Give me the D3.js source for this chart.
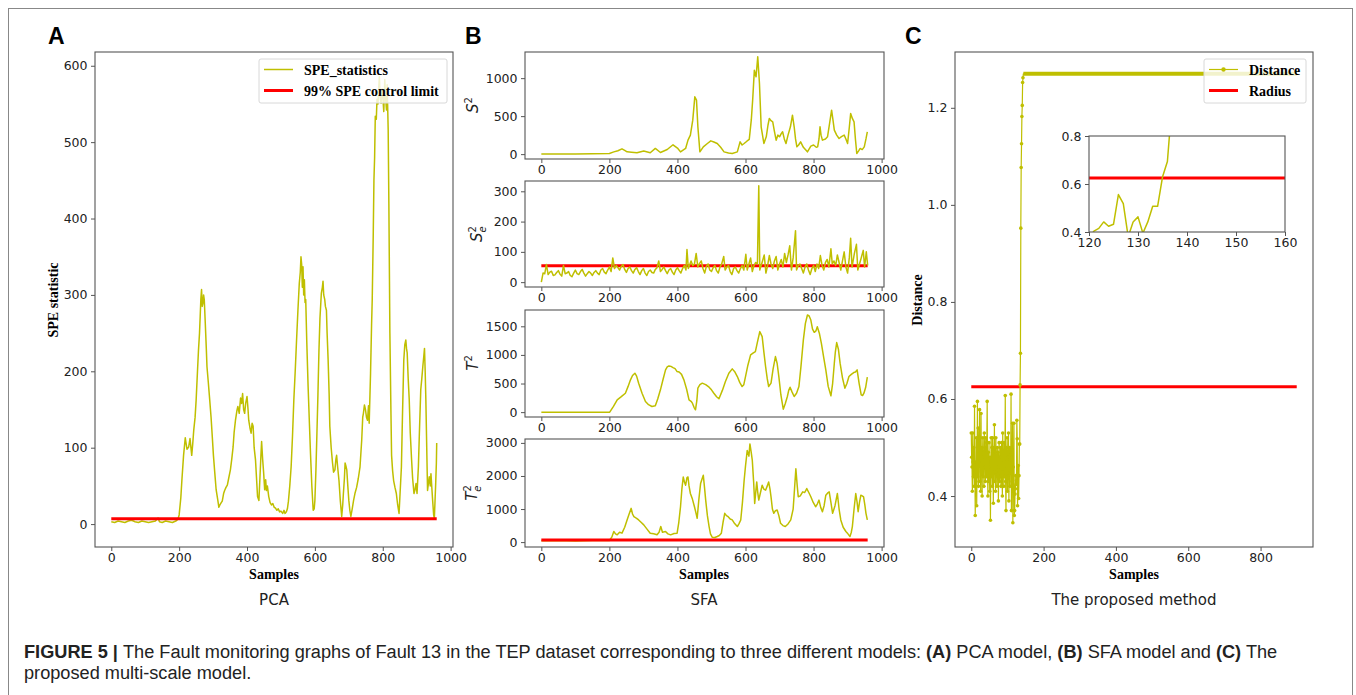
<!DOCTYPE html>
<html>
<head>
<meta charset="utf-8">
<script src="https://cdn.jsdelivr.net/npm/d3@7"></script>
<style>
  body { margin: 0; background: #fff; }
  svg text { font-family: "DejaVu Sans", sans-serif; }
</style>
</head>
<body>
<svg id="fig" width="1356" height="695"></svg>
<script>
// ---- data: [sample, value] ----
const speStat = [[0,3],[10,2],[20,4],[30,3],[40,2],[50,4],[60,5],[70,3],[80,2],[90,4],[100,3],[110,2],[120,3],[130,4],[138,8],[142,3],[150,2],[160,4],[170,3],[180,2],[190,4],[196,6],
  [200,12],[205,35],[208,57],[213,90],[218,113],[223,98],[228,101],[232,112],[237,90],[240,105],[243,123],[247,140],[250,162],[254,200],[257,228],[260,250],[262,272],[264,295],[266,307],[268,285],[270,289],[272,300],[274,294],[277,263],[280,230],[282,206],[286,185],[290,163],[294,140],[297,119],[301,90],[305,67],[309,45],[314,31],[317,22],[320,25],[324,28],[327,30],[331,40],[334,44],[338,48],[342,51],[346,60],[351,71],[355,85],[359,101],[362,120],[366,136],[370,148],[373,154],[377,145],[381,165],[384,158],[387,171],[390,150],[393,145],[396,158],[400,167],[403,150],[405,136],[409,125],[412,119],[415,132],[418,128],[421,100],[425,84],[428,60],[431,36],[435,31],[438,60],[441,90],[443,108],[446,85],[449,67],[452,45],[455,58],[457,44],[460,50],[464,36],[468,28],[472,25],[476,27],[480,22],[484,21],[488,18],[492,20],[496,16],[500,17],[505,14],[509,18],[512,14],[516,16],[519,20],[522,30],[526,50],[530,75],[534,115],[538,163],[542,200],[546,241],[550,280],[554,315],[557,330],[559,350],[561,340],[563,310],[565,337],[567,300],[569,320],[571,290],[573,294],[576,240],[580,180],[584,130],[587,93],[591,50],[595,18],[598,20],[600,31],[603,70],[606,119],[609,170],[612,228],[615,270],[619,302],[622,310],[624,318],[626,300],[629,294],[631,285],[634,280],[636,250],[639,215],[642,170],[644,128],[648,100],[652,80],[655,68],[659,71],[662,85],[664,90],[667,75],[671,57],[675,30],[679,10],[682,25],[684,40],[687,60],[689,80],[692,75],[694,71],[697,50],[700,31],[703,18],[706,10],[710,20],[714,31],[718,40],[723,48],[728,60],[733,75],[738,110],[741,140],[743,145],[746,156],[749,150],[752,140],[755,136],[758,155],[760,132],[764,197],[767,260],[769,294],[772,380],[774,450],[776,480],[778,534],[781,530],[783,556],[786,550],[788,570],[790,586],[792,560],[795,551],[798,570],[800,560],[803,540],[806,582],[808,560],[811,542],[813,575],[816,516],[818,420],[821,250],[824,150],[826,90],[829,70],[832,57],[836,48],[840,40],[844,25],[848,14],[851,40],[855,75],[858,140],[862,215],[865,235],[868,241],[870,230],[872,224],[875,190],[878,163],[881,120],[885,84],[888,60],[892,40],[895,45],[898,53],[901,40],[905,75],[908,120],[912,176],[915,190],[918,206],[921,220],[923,230],[925,200],[927,163],[930,90],[932,44],[935,55],[937,62],[940,50],[942,66],[945,45],[947,31],[950,12],[952,7],[954,30],[956,53],[958,80],[959,106]];
const speLimit = 7;

const s2 = [[0,2],[50,3],[100,2],[150,4],[200,9],[213,30],[225,45],[237,70],[245,50],[252,30],[265,25],[281,18],[301,40],[320,18],[335,75],[350,22],[370,61],[387,123],[400,80],[409,30],[424,75],[431,184],[438,250],[445,447],[451,754],[456,710],[460,360],[466,30],[476,96],[488,140],[498,175],[507,160],[517,140],[527,90],[537,30],[550,15],[561,9],[576,30],[584,162],[590,120],[596,140],[604,170],[611,193],[617,450],[621,710],[626,1105],[631,1018],[636,1281],[641,930],[646,360],[654,140],[661,228],[666,380],[670,470],[675,440],[680,425],[685,300],[690,184],[695,250],[700,228],[705,270],[709,294],[714,200],[719,140],[725,250],[732,360],[738,513],[743,360],[747,200],[751,96],[756,120],[762,162],[770,90],[782,30],[792,105],[800,120],[808,90],[812,96],[816,200],[819,360],[822,250],[826,184],[835,200],[841,228],[847,400],[853,579],[857,450],[861,316],[868,250],[875,206],[882,230],[890,250],[895,200],[900,140],[905,350],[909,535],[914,470],[919,425],[923,200],[927,9],[932,40],[937,75],[943,60],[949,96],[954,200],[958,294]];

const se2 = [[0,0],[5,30],[10,28],[15,58],[20,25],[25,33],[30,36],[35,22],[40,24],[45,32],[50,38],[55,26],[60,20],[65,55],[70,28],[75,30],[80,35],[85,22],[90,18],[95,30],[100,40],[105,28],[110,25],[115,35],[120,42],[125,30],[130,20],[135,28],[140,35],[145,30],[150,22],[155,32],[160,38],[165,30],[170,25],[175,40],[180,45],[185,33],[190,28],[195,40],[200,50],[205,35],[210,80],[215,45],[220,55],[225,48],[230,40],[235,52],[240,58],[245,42],[250,32],[255,45],[260,50],[265,38],[270,30],[275,42],[280,48],[285,35],[290,25],[295,38],[300,45],[305,30],[310,22],[315,35],[320,40],[325,32],[330,30],[335,42],[340,48],[345,70],[350,35],[355,42],[360,50],[365,38],[370,28],[375,40],[380,45],[385,33],[390,25],[395,40],[400,48],[405,38],[410,30],[415,45],[420,55],[425,40],[428,108],[432,45],[440,70],[445,55],[450,60],[455,95],[460,50],[465,62],[470,70],[475,45],[480,30],[485,52],[490,60],[495,40],[500,35],[505,48],[510,55],[515,38],[520,30],[525,50],[530,60],[536,85],[540,40],[545,50],[550,55],[555,35],[560,25],[565,45],[570,50],[575,38],[580,30],[585,45],[590,55],[595,40],[601,92],[605,40],[610,60],[615,80],[620,35],[625,55],[630,65],[635,60],[639,318],[642,40],[650,70],[655,90],[660,30],[665,55],[670,88],[675,60],[680,45],[685,70],[690,85],[695,40],[700,60],[705,75],[710,50],[715,95],[720,65],[725,90],[730,120],[735,40],[740,80],[747,170],[750,40],[755,55],[760,60],[765,45],[770,30],[775,50],[780,60],[785,40],[790,25],[795,45],[800,55],[805,35],[810,60],[815,45],[820,88],[825,55],[830,40],[835,65],[840,75],[845,50],[851,110],[855,60],[860,70],[865,55],[870,90],[875,65],[880,40],[885,70],[890,100],[895,50],[900,30],[905,80],[909,145],[913,50],[920,95],[926,125],[930,40],[935,60],[940,80],[946,105],[950,50],[955,100],[959,55]];
const se2Limit = 54;

const t2 = [[0,0],[100,0],[201,0],[212,100],[223,215],[235,270],[247,331],[255,450],[262,564],[268,640],[275,680],[280,630],[286,506],[296,330],[306,186],[315,130],[325,99],[335,110],[342,230],[350,390],[358,580],[365,738],[370,790],[375,808],[381,800],[387,779],[393,760],[399,709],[405,700],[412,660],[419,564],[427,400],[434,215],[440,190],[444,157],[449,80],[453,41],[457,200],[460,419],[466,480],[473,506],[483,480],[493,436],[500,390],[507,331],[515,270],[522,233],[532,380],[541,535],[551,680],[561,756],[569,700],[576,622],[583,520],[590,448],[595,480],[600,622],[607,820],[615,1000],[622,1030],[629,1058],[636,1250],[642,1407],[649,1320],[654,1050],[659,797],[664,580],[668,448],[675,506],[681,750],[688,971],[693,850],[698,622],[704,300],[711,52],[717,150],[723,273],[727,380],[731,436],[737,350],[743,273],[750,330],[757,448],[763,800],[770,1262],[776,1550],[782,1698],[787,1680],[792,1610],[797,1450],[802,1395],[807,1420],[811,1494],[817,1380],[823,1203],[830,950],[836,738],[843,450],[851,285],[856,500],[861,855],[864,1050],[868,1215],[873,1100],[878,855],[885,600],[892,419],[898,500],[904,622],[911,660],[918,692],[923,700],[928,738],[934,500],[940,302],[944,290],[948,331],[953,430],[958,610]];

const te2 = [[0,40],[50,50],[100,35],[150,45],[200,50],[207,150],[213,320],[218,250],[223,220],[230,300],[237,270],[245,450],[252,670],[258,850],[264,1020],[268,850],[272,770],[280,720],[286,670],[293,600],[301,520],[310,400],[320,270],[330,250],[340,220],[346,300],[351,470],[356,300],[365,320],[372,250],[380,220],[390,260],[399,270],[404,600],[409,1070],[413,1600],[417,1970],[421,1800],[424,1720],[428,1950],[431,1970],[434,1700],[438,1470],[444,1300],[450,1070],[454,900],[458,720],[463,1300],[468,1770],[472,1900],[476,2020],[480,1600],[483,1270],[488,800],[493,470],[497,250],[502,150],[510,140],[517,170],[523,200],[529,270],[534,600],[539,870],[544,800],[549,770],[555,700],[561,670],[568,560],[576,470],[581,560],[586,670],[591,1200],[596,1870],[600,2300],[605,2770],[610,2600],[613,2970],[617,2700],[620,2470],[624,1800],[627,1170],[630,1500],[633,1820],[636,1500],[639,1270],[644,1500],[649,1720],[654,1600],[659,1570],[664,1700],[668,1820],[672,1600],[675,1370],[679,1000],[683,870],[688,950],[693,970],[698,800],[703,570],[710,500],[717,470],[725,550],[733,670],[740,1000],[744,1600],[748,2220],[752,1700],[755,1370],[761,1400],[768,1520],[774,1500],[780,1620],[786,1500],[792,1370],[799,1200],[806,1070],[811,1150],[816,1270],[821,1050],[826,920],[831,1100],[836,1420],[841,1480],[846,1520],[851,1200],[856,870],[863,1100],[870,1470],[875,1000],[880,670],[887,450],[895,320],[901,250],[907,170],[911,300],[914,470],[919,1000],[924,1470],[928,1200],[931,920],[935,1200],[939,1420],[943,1400],[947,1370],[951,1100],[954,870],[958,670]];
const te2Limit = 60;

// distance, one value per sample 0..143, then flat until sample 900
const distance = [
  0.53,0.48,0.46,0.41,0.53,0.47,0.44,0.50,0.42,0.585,
  0.45,0.36,0.47,0.43,0.52,0.38,0.46,0.595,0.44,0.54,
  0.42,0.50,0.47,0.578,0.43,0.52,0.41,0.57,0.45,0.50,
  0.40,0.48,0.52,0.44,0.49,0.42,0.53,0.46,0.50,0.43,
  0.52,0.47,0.44,0.51,0.595,0.45,0.40,0.49,0.43,0.51,
  0.46,0.41,0.48,0.35,0.47,0.52,0.44,0.50,0.42,0.52,
  0.46,0.385,0.50,0.45,0.547,0.43,0.49,0.41,0.52,0.45,
  0.47,0.42,0.50,0.44,0.49,0.39,0.46,0.51,0.43,0.48,
  0.44,0.50,0.42,0.47,0.51,0.45,0.40,0.53,0.46,0.49,
  0.42,0.51,0.44,0.47,0.607,0.43,0.37,0.50,0.46,0.52,
  0.41,0.48,0.44,0.53,0.39,0.47,0.50,0.42,0.49,0.45,
  0.61,0.37,0.48,0.43,0.55,0.345,0.46,0.42,0.55,0.36,
  0.37,0.404,0.415,0.442,0.424,0.432,0.556,0.518,0.38,0.442,
  0.463,0.395,0.442,0.507,0.507,0.629,0.694,0.952,1.077,1.126,
  1.182,1.205,1.252,1.262
];
const distPlateau = [[144, 1.27], [900, 1.27]];
const radius = 0.625;
const radiusSpan = [0, 900];

const sampleTicks = [0, 200, 400, 600, 800, 1000];
const speTicks = [0, 100, 200, 300, 400, 500, 600];
const s2Ticks = [0, 500, 1000];
const se2Ticks = [0, 100, 200, 300];
const t2Ticks = [0, 500, 1000, 1500];
const te2Ticks = [0, 1000, 2000, 3000];
const distXTicks = [0, 200, 400, 600, 800];
const distYTicks = [0.4, 0.6, 0.8, 1.0, 1.2];
const insetXTicks = [120, 130, 140, 150, 160];
const insetYTicks = [0.4, 0.6, 0.8];

const captionBold = ["FIGURE 5 | ", "(A)", "(B)", "(C)"];

// ---- drawing ----
const svg = d3.select("#fig");
const YEL = "#bfbf00", RED = "#ff0000", SPINE = "#555", TXT = "#222";
const SERIF = "'Liberation Serif', 'Times New Roman', serif";
let clipCount = 0;

// frame round the whole figure
svg.append("rect").attr("x", 8.5).attr("y", 8.5).attr("width", 1344).attr("height", 700)
  .attr("fill", "none").attr("stroke", "#888");

function makeAxes(b, xDomain, yDomain, xTicks, yTicks, yFmt) {
  const x = d3.scaleLinear().domain(xDomain).range([b.x0, b.x1]);
  const y = d3.scaleLinear().domain(yDomain).range([b.y1, b.y0]);
  const id = "clip" + (clipCount++);
  svg.append("clipPath").attr("id", id).append("rect")
    .attr("x", b.x0).attr("y", b.y0).attr("width", b.x1 - b.x0).attr("height", b.y1 - b.y0);

  svg.append("rect").attr("x", b.x0).attr("y", b.y0).attr("width", b.x1 - b.x0).attr("height", b.y1 - b.y0)
    .attr("fill", "#fff");
  const plot = svg.append("g").attr("clip-path", `url(#${id})`);

  const xa = svg.append("g").attr("transform", `translate(0,${b.y1})`)
    .call(d3.axisBottom(x).tickValues(xTicks).tickFormat(d3.format("d")).tickSize(4).tickPadding(2.5).tickSizeOuter(0));
  const ya = svg.append("g").attr("transform", `translate(${b.x0},0)`)
    .call(d3.axisLeft(y).tickValues(yTicks).tickFormat(yFmt || d3.format("d")).tickSize(4).tickPadding(3.5).tickSizeOuter(0));
  [xa, ya].forEach(a => {
    a.attr("font-family", null).attr("font-size", null);
    a.select(".domain").remove();
    a.selectAll(".tick line").attr("stroke", SPINE);
    a.selectAll(".tick text").attr("fill", TXT).style("font-size", "12.5px");
  });

  svg.append("rect").attr("x", b.x0).attr("y", b.y0).attr("width", b.x1 - b.x0).attr("height", b.y1 - b.y0)
    .attr("fill", "none").attr("stroke", SPINE).attr("stroke-width", 1.1);
  return { x, y, plot };
}

function drawLine(ax, data, color, width) {
  ax.plot.append("path").datum(data)
    .attr("d", d3.line().x(d => ax.x(d[0])).y(d => ax.y(d[1])))
    .attr("fill", "none").attr("stroke", color).attr("stroke-width", width)
    .attr("stroke-linejoin", "round");
}

function hLine(ax, value, x0, x1, width) {
  ax.plot.append("line")
    .attr("x1", ax.x(x0)).attr("x2", ax.x(x1)).attr("y1", ax.y(value)).attr("y2", ax.y(value))
    .attr("stroke", RED).attr("stroke-width", width);
}

function panelLetter(t, x) {
  svg.append("text").attr("x", x).attr("y", 44).text(t)
    .style("font-family", "'Liberation Sans', Arial, sans-serif").style("font-weight", "bold").style("font-size", "23px");
}

function serifLabel(t, x, y, rotate) {
  svg.append("text").attr("transform", `translate(${x},${y})` + (rotate ? " rotate(-90)" : ""))
    .attr("text-anchor", "middle").text(t)
    .style("font-family", SERIF).style("font-weight", "bold").style("font-size", "14px");
}

function subCaption(t, x) {
  svg.append("text").attr("x", x).attr("y", 605).attr("text-anchor", "middle").attr("fill", TXT)
    .text(t).style("font-size", "15px");
}

function mathLabel(x, y, base, sub) {
  const t = svg.append("text").attr("transform", `translate(${x},${y}) rotate(-90)`)
    .attr("text-anchor", "middle").attr("fill", TXT).style("font-size", "15px");
  t.append("tspan").style("font-style", "italic").text(base);
  t.append("tspan").attr("dy", -6).style("font-size", "10px").text("2");
  if (sub) t.append("tspan").attr("dx", -6.4).attr("dy", 10).style("font-size", "10px").style("font-style", "italic").text(sub);
}

function legend(bx, by, bw, items) {
  const g = svg.append("g");
  g.append("rect").attr("x", bx).attr("y", by).attr("width", bw).attr("height", 44).attr("rx", 2)
    .attr("fill", "#fff").attr("fill-opacity", 0.8).attr("stroke", "#d8d8d8");
  items.forEach((it, i) => {
    const cy = by + 10.5 + i * 21;
    g.append("line").attr("x1", bx + 5).attr("x2", bx + 34).attr("y1", cy).attr("y2", cy)
      .attr("stroke", it.color).attr("stroke-width", it.width);
    if (it.dot) g.append("circle").attr("cx", bx + 19.5).attr("cy", cy).attr("r", 2.2).attr("fill", it.color);
    g.append("text").attr("x", bx + 45).attr("y", cy + 5).text(it.label)
      .style("font-family", SERIF).style("font-weight", "bold").style("font-size", "14px");
  });
}

// ---- A: PCA ----
const axA = makeAxes({ x0: 95, x1: 453, y0: 52, y1: 547 }, [-48, 1007], [-30, 618], sampleTicks, speTicks);
drawLine(axA, speStat, YEL, 1.5);
hLine(axA, speLimit, 0, 959, 3);
legend(259, 59, 188, [
  { label: "SPE_statistics", color: YEL, width: 1.5 },
  { label: "99% SPE control limit", color: RED, width: 3 }
]);
panelLetter("A", 48);
serifLabel("SPE statistic", 58, 300, true);
serifLabel("Samples", 274, 579, false);
subCaption("PCA", 274);

// ---- B: SFA ----
const bx = { x0: 525, x1: 884 };
const axB1 = makeAxes({ ...bx, y0: 52, y1: 159 }, [-48, 1007], [-64, 1344], sampleTicks, s2Ticks);
drawLine(axB1, s2, YEL, 1.5);
const axB2 = makeAxes({ ...bx, y0: 181, y1: 287 }, [-48, 1007], [-16, 334], sampleTicks, se2Ticks);
hLine(axB2, se2Limit, 0, 959, 3);
drawLine(axB2, se2, YEL, 1.5);
const axB3 = makeAxes({ ...bx, y0: 310, y1: 417 }, [-48, 1007], [-85, 1785], sampleTicks, t2Ticks);
drawLine(axB3, t2, YEL, 1.5);
const axB4 = makeAxes({ ...bx, y0: 439, y1: 547 }, [-48, 1007], [-148, 3118], sampleTicks, te2Ticks);
drawLine(axB4, te2, YEL, 1.5);
hLine(axB4, te2Limit, 0, 959, 3);
panelLetter("B", 465);
mathLabel(478, 105, "S");
mathLabel(482, 234, "S", "e");
mathLabel(478, 363, "T");
mathLabel(477, 493, "T", "e");
serifLabel("Samples", 704, 579, false);
subCaption("SFA", 704);

// ---- C: proposed method ----
const distPts = distance.map((v, i) => [i, v]);
const axC = makeAxes({ x0: 955, x1: 1313, y0: 52, y1: 547 }, [-45, 945], [0.295, 1.315], distXTicks, distYTicks, d3.format(".1f"));
hLine(axC, radius, radiusSpan[0], radiusSpan[1], 3);
drawLine(axC, distPts.concat(distPlateau), YEL, 1.2);
drawLine(axC, distPlateau, YEL, 4);
axC.plot.selectAll("circle").data(distPts).join("circle")
  .attr("cx", d => axC.x(d[0])).attr("cy", d => axC.y(d[1])).attr("r", 1.8).attr("fill", YEL);
legend(1204, 59, 102, [
  { label: "Distance", color: YEL, width: 1.2, dot: true },
  { label: "Radius", color: RED, width: 3 }
]);

const axIn = makeAxes({ x0: 1089, x1: 1285, y0: 136, y1: 232 }, [120, 160], [0.4, 0.8], insetXTicks, insetYTicks, d3.format(".1f"));
hLine(axIn, radius, 120, 160, 3);
drawLine(axIn, distPts, YEL, 1.5);

panelLetter("C", 905);
serifLabel("Distance", 922, 300, true);
serifLabel("Samples", 1134, 579, false);
subCaption("The proposed method", 1134);

// ---- caption ----
const capFont = "'Liberation Sans', Arial, Helvetica, sans-serif";
const cap1 = svg.append("text").attr("x", 24).attr("y", 658).attr("fill", "#222")
  .style("font-family", capFont).style("font-size", "16px");
cap1.append("tspan").style("font-weight", "bold").text(captionBold[0]);
cap1.append("tspan").text("The Fault monitoring graphs of Fault 13 in the TEP dataset corresponding to three different models: ");
cap1.append("tspan").style("font-weight", "bold").text(captionBold[1]);
cap1.append("tspan").text(" PCA model, ");
cap1.append("tspan").style("font-weight", "bold").text(captionBold[2]);
cap1.append("tspan").text(" SFA model and ");
cap1.append("tspan").style("font-weight", "bold").text(captionBold[3]);
cap1.append("tspan").text(" The");
const cap2 = svg.append("text").attr("x", 24).attr("y", 679).attr("fill", "#222")
  .style("font-family", capFont).style("font-size", "16px")
  .text("proposed multi-scale model.");
// fit the first caption line to its width in the figure
const fs = 16 * 1254 / cap1.node().getComputedTextLength();
cap1.style("font-size", fs + "px");
cap2.style("font-size", fs + "px");
</script>
</body>
</html>
